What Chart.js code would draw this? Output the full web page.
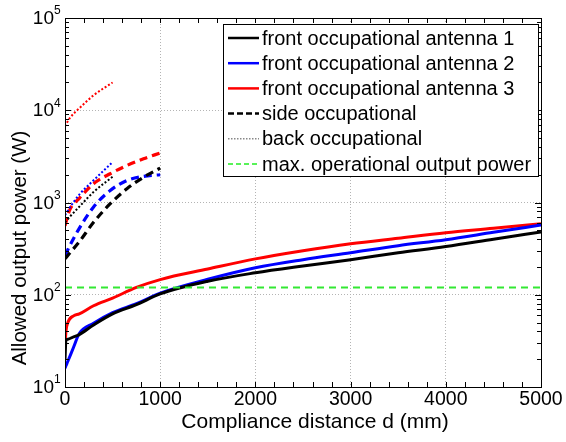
<!DOCTYPE html>
<html>
<head>
<meta charset="utf-8">
<script src="https://cdn.jsdelivr.net/npm/chart.js@4.4.1/dist/chart.umd.min.js"></script>
<style>
  html, body { margin: 0; padding: 0; background: #fff; }
  #wrap { width: 566px; height: 442px; }
</style>
</head>
<body>
<div id="wrap"><canvas id="myChart" width="566" height="442"></canvas></div>
<script>
const FONT = '"Liberation Sans", Arial, Helvetica, sans-serif';

// front occupational (all three antennas share the distances)
const frontDist = [0, 10, 30, 90, 150, 300, 500, 750, 1000, 1500, 2000, 2500, 3000, 3500, 4000, 4500, 5000];
const frontAnt1 = [20, 32, 33, 35, 37, 47, 62, 78, 102, 140, 173, 205, 240, 285, 333, 400, 480];
const frontAnt2 = [16, 17, 19, 27, 38, 49, 64, 80, 104, 147, 196, 240, 285, 340, 395, 475, 570];
const frontAnt3 = [27, 40, 50, 59, 62, 76, 92, 120, 146, 190, 245, 300, 357, 410, 470, 525, 590];

// side occupational (dashed)
const sideDist = [0, 50, 150, 300, 475, 650, 825, 1000];
const sideAnt1 = [245, 283, 375, 610, 970, 1410, 1880, 2360];
const sideAnt2 = [265, 340, 525, 895, 1350, 1730, 1920, 2000];
const sideAnt3 = [560, 830, 1110, 1600, 2050, 2520, 2980, 3440];

// back occupational (dotted)
const backDist = [0, 50, 150, 300, 500];
const backAnt1 = [610, 700, 900, 1300, 1900];
const backAnt2 = [730, 880, 1220, 1740, 2740];
const backAnt3 = [6700, 8200, 10500, 14500, 20000];

// max. operational output power
const maxDist = [0, 5000];
const maxPower = [120, 120];

const xTicks = [0, 1000, 2000, 3000, 4000, 5000];
const yDecades = [1, 2, 3, 4, 5];

const legendLabels = [
    'front occupational antenna 1',
    'front occupational antenna 2',
    'front occupational antenna 3',
    'side occupational',
    'back occupational',
    'max. operational output power'
];

function pts(xs, ys) {
    return xs.map((x, i) => ({ x: x, y: ys[i] }));
}

const solid = [];
const dashed = [8, 5];
const dotted = [2, 2];

function series(label, xs, ys, color, dash, width) {
    return {
        label: label,
        data: pts(xs, ys),
        borderColor: color,
        backgroundColor: color,
        borderDash: dash,
        borderWidth: width,
        pointRadius: 0,
        showLine: true,
        cubicInterpolationMode: 'monotone',
        fill: false
    };
}

const datasets = [
    series('back 1', backDist, backAnt1, '#000000', dotted, 2),
    series('back 2', backDist, backAnt2, '#0000ff', dotted, 2),
    series('back 3', backDist, backAnt3, '#ff0000', dotted, 2),
    series('side 1', sideDist, sideAnt1, '#000000', dashed, 3.2),
    series('side 2', sideDist, sideAnt2, '#0000ff', dashed, 3.2),
    series('side 3', sideDist, sideAnt3, '#ff0000', dashed, 3.2),
    series(legendLabels[5], maxDist, maxPower, '#33e833', [7, 5], 2),
    series(legendLabels[0], frontDist, frontAnt1, '#000000', solid, 3),
    series(legendLabels[1], frontDist, frontAnt2, '#0000ff', solid, 3),
    series(legendLabels[2], frontDist, frontAnt3, '#ff0000', solid, 3)
];

const legendItems = [
    { color: '#000000', dash: solid, width: 2.5 },
    { color: '#0000ff', dash: solid, width: 2.5 },
    { color: '#ff0000', dash: solid, width: 2.5 },
    { color: '#000000', dash: [6, 3], width: 2.5 },
    { color: '#888888', dash: [1.5, 1.5], width: 1.5 },
    { color: '#22ee22', dash: [5, 3], width: 1.5 }
];

function gridColor(ctx) {
    const v = ctx.tick && ctx.tick.value;
    const s = ctx.scale;
    if (v === s.min || v === s.max) return 'rgba(0,0,0,0)';
    return '#b4b4b4';
}

// draws the box, inward tick marks, y labels with exponents, axis titles and the legend
const matlabAxes = {
    id: 'matlabAxes',
    afterDraw(chart) {
        const c = chart.ctx;
        const a = chart.chartArea;
        const xs = chart.scales.x;
        const ys = chart.scales.y;
        c.save();
        c.strokeStyle = '#000';
        c.lineWidth = 1;
        c.setLineDash([]);
        c.strokeRect(a.left + 0.5, a.top + 0.5, a.right - a.left, a.bottom - a.top);

        // x ticks every 200
        c.beginPath();
        for (let v = 200; v < 5000; v += 200) {
            const px = Math.round(xs.getPixelForValue(v)) + 0.5;
            c.moveTo(px, a.bottom); c.lineTo(px, a.bottom - 5);
            c.moveTo(px, a.top); c.lineTo(px, a.top + 5);
        }
        // y minor and major ticks
        for (let e = 1; e < 5; e++) {
            for (let k = 1; k <= 9; k++) {
                const py = Math.round(ys.getPixelForValue(k * Math.pow(10, e))) + 0.5;
                const len = k === 1 ? 6 : 4;
                c.moveTo(a.left, py); c.lineTo(a.left + len, py);
                c.moveTo(a.right, py); c.lineTo(a.right - len, py);
            }
        }
        c.stroke();

        // y labels 10^n
        c.fillStyle = '#000';
        c.textBaseline = 'middle';
        yDecades.forEach(e => {
            const py = ys.getPixelForValue(Math.pow(10, e));
            c.font = '19px ' + FONT;
            c.textAlign = 'right';
            c.fillText('10', a.left - 11, py + 1);
            c.font = '12px ' + FONT;
            c.textAlign = 'left';
            c.fillText(String(e), a.left - 11, py - 7);
        });

        // axis titles
        c.font = '21px ' + FONT;
        c.textAlign = 'center';
        c.fillText('Compliance distance d (mm)', 315, 422);
        c.font = '20.5px ' + FONT;
        c.save();
        c.translate(20, 248);
        c.rotate(-Math.PI / 2);
        c.fillText('Allowed output power (W)', 0, 0);
        c.restore();

        // legend
        const bx = 223, by = 24, bw = 315, bh = 152;
        c.fillStyle = '#fff';
        c.fillRect(bx, by, bw, bh);
        c.strokeStyle = '#000';
        c.lineWidth = 1;
        c.strokeRect(bx + 0.5, by + 0.5, bw, bh);
        c.font = '20px ' + FONT;
        c.textAlign = 'left';
        c.textBaseline = 'middle';
        legendLabels.forEach((txt, i) => {
            const ly = 38 + i * 25.2;
            const it = legendItems[i];
            c.beginPath();
            c.strokeStyle = it.color;
            c.lineWidth = it.width;
            c.setLineDash(it.dash);
            c.moveTo(228, ly); c.lineTo(259, ly);
            c.stroke();
            c.setLineDash([]);
            c.fillStyle = '#000';
            c.fillText(txt, 262, ly + 1);
        });
        c.restore();
    }
};

const ctx = document.getElementById('myChart').getContext('2d');

const myChart = new Chart(ctx, {
    type: 'scatter',
    data: { datasets: datasets },
    plugins: [matlabAxes],
    options: {
        responsive: false,
        animation: false,
        layout: { padding: { top: 18, right: 25, left: 0, bottom: 0 } },
        plugins: {
            legend: { display: false },
            tooltip: { enabled: false }
        },
        scales: {
            x: {
                type: 'linear',
                min: 0,
                max: 5000,
                afterBuildTicks: s => { s.ticks = xTicks.map(v => ({ value: v })); },
                afterFit: s => { s.height = 55; },
                ticks: {
                    color: '#000',
                    font: { family: FONT, size: 19.5 },
                    padding: 1,
                    maxRotation: 0,
                    callback: v => String(v)
                },
                grid: { color: gridColor, drawTicks: false, lineWidth: 1 },
                border: { display: false, dash: [1, 2] }
            },
            y: {
                type: 'logarithmic',
                min: 10,
                max: 100000,
                afterBuildTicks: s => { s.ticks = yDecades.map(e => ({ value: Math.pow(10, e) })); },
                afterFit: s => { s.width = 65; },
                ticks: { display: false },
                grid: { color: gridColor, drawTicks: false, lineWidth: 1 },
                border: { display: false, dash: [1, 2] }
            }
        }
    }
});
</script>
</body>
</html>
